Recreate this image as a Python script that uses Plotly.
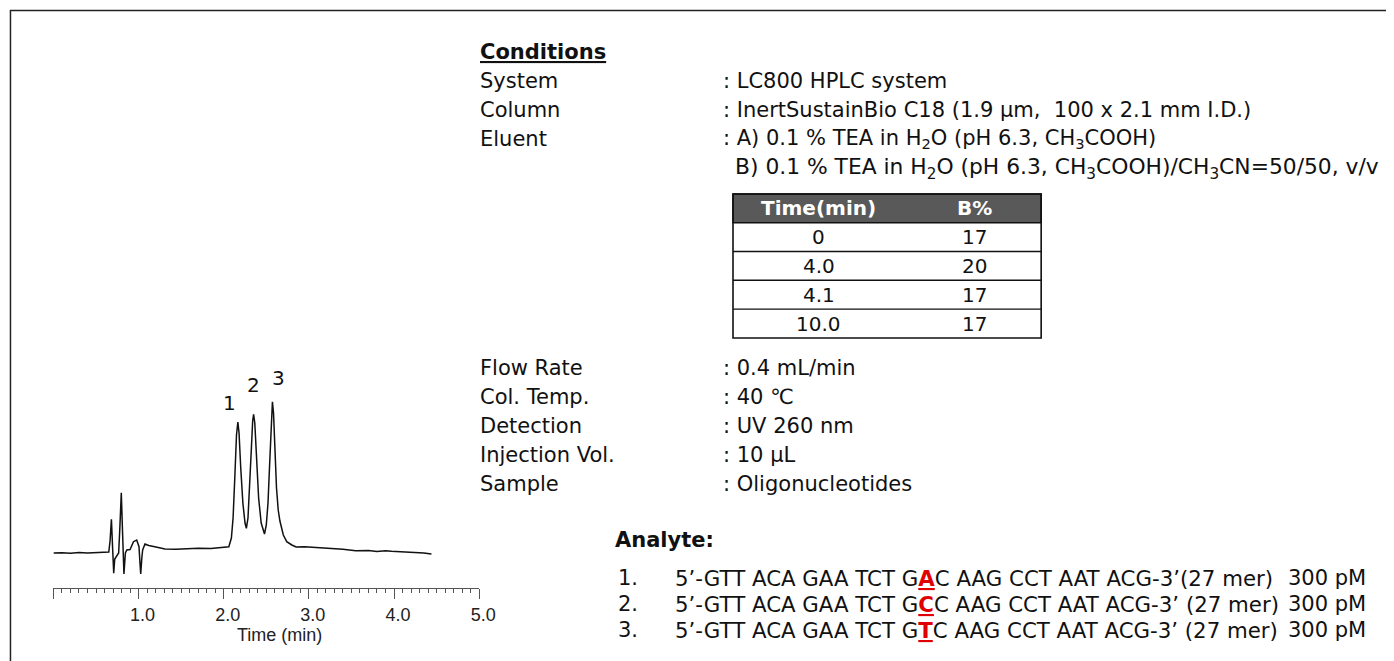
import plotly.graph_objects as go

# page is offset by the browser's 8px body margin; the figure fills the rest
OFF = 8
FW, FH = 1394 - OFF, 661 - OFF

# ---------------- data ----------------
time_min = [0.00, 0.10, 0.20, 0.30, 0.40, 0.50, 0.60, 0.65, 0.665, 0.681, 0.695, 0.708, 0.72, 0.735,
            0.766, 0.78, 0.797, 0.812, 0.828, 0.845, 0.862, 0.90, 0.94, 0.978, 1.005, 1.015, 1.025,
            1.038, 1.048, 1.075, 1.12, 1.19, 1.31, 1.44, 1.55, 1.70, 1.85, 1.98, 2.06, 2.09, 2.11,
            2.13, 2.15, 2.166, 2.18, 2.20, 2.225, 2.25, 2.266, 2.285, 2.305, 2.325, 2.34, 2.351,
            2.365, 2.385, 2.41, 2.44, 2.479, 2.50, 2.52, 2.54, 2.558, 2.572, 2.585, 2.60, 2.62,
            2.64, 2.66, 2.70, 2.74, 2.80, 2.85, 2.95, 3.10, 3.25, 3.40, 3.55, 3.70, 3.80, 3.90,
            3.97, 4.10, 4.25, 4.35, 4.44]
signal = [0.00, 0.03, -0.02, 0.04, 0.00, 0.03, 0.06, 0.10, 1.2, 3.37, 0.5, -2.03, -0.6, -0.43,
          0.0, 2.5, 6.03, 2.0, -2.1, 0.0, 0.3, 0.35, 1.13, 1.3, 0.63, -0.8, -2.1,
          -0.5, 0.3, 0.9, 0.75, 0.63, 0.40, 0.37, 0.42, 0.47, 0.45, 0.55, 0.63, 1.5, 3.5,
          7.5, 11.8, 13.1, 12.0, 8.5, 5.0, 3.0, 2.47, 3.5, 6.5, 10.5, 13.2, 13.87,
          13.0, 9.5, 5.5, 3.0, 1.9, 2.8, 5.0, 9.0, 13.5, 15.13, 14.0, 10.5, 6.5,
          4.3, 3.2, 1.8, 1.13, 0.8, 0.6, 0.62, 0.55, 0.45, 0.38, 0.22, 0.25, 0.15, 0.22,
          0.17, 0.12, 0.05, 0.0, -0.1]

peak_labels = ["1", "2", "3"]
peak_label_time = [2.07, 2.35, 2.64]
peak_label_signal = [14.97, 16.8, 17.5]

tick_vals = [0, 1, 2, 3, 4, 5]
tick_text = ["", "1.0", "2.0", "3.0", "4.0", "5.0"]
x_title = "Time (min)"

cond_heading = "Conditions"
cond_labels = ["System", "Column", "Eluent"]
cond_values = [": LC800 HPLC system",
               ": InertSustainBio C18 (1.9 µm,  100 x 2.1 mm I.D.)",
               ": A) 0.1 % TEA in H<sub>2</sub>O (pH 6.3, CH<sub>3</sub>COOH)"]
eluent_b = "B) 0.1 % TEA in H<sub>2</sub>O (pH 6.3, CH<sub>3</sub>COOH)/CH<sub>3</sub>CN=50/50, v/v"

grad_header = ["Time(min)", "B%"]
grad_time = ["0", "4.0", "4.1", "10.0"]
grad_b = ["17", "20", "17", "17"]

cond2_labels = ["Flow Rate", "Col. Temp.", "Detection", "Injection Vol.", "Sample"]
cond2_values = [": 0.4 mL/min", ": 40 ℃", ": UV 260 nm", ": 10 µL", ": Oligonucleotides"]

analyte_heading = "Analyte:"
analyte_no = ["1.", "2.", "3."]
seq_prefix = "5’-GTT ACA GAA TCT G"
seq_variant = ["A", "C", "T"]
seq_suffix = ["C AAG CCT AAT ACG-3’(27 mer)", "C AAG CCT AAT ACG-3’ (27 mer)",
              "C AAG CCT AAT ACG-3’ (27 mer)"]
analyte_conc = ["300 pM", "300 pM", "300 pM"]

# ---------------- helpers ----------------
def X(px):
    return (px - OFF) / FW

def Y(py):
    return 1 - (py - OFF) / FH

SANS = "DejaVu Sans, Verdana, Tahoma, sans-serif"
ARIAL = "Liberation Sans, Arial, sans-serif"
FS = 21

fig = go.Figure()
fig.add_trace(go.Scatter(x=time_min, y=signal, mode="lines",
                         line=dict(color="#111111", width=1.5), hoverinfo="skip",
                         showlegend=False))

annotations = []
for lab, t, s in zip(peak_labels, peak_label_time, peak_label_signal):
    annotations.append(dict(x=t, y=s, xref="x", yref="y", text=lab, showarrow=False,
                            font=dict(family=SANS, size=20, color="#111"),
                            xanchor="center", yanchor="middle"))

def txt(px, py, text, size=FS, color="#111", anchor="left", font=SANS):
    annotations.append(dict(x=X(px), y=Y(py), xref="paper", yref="paper", text=text,
                            showarrow=False, xanchor=anchor, yanchor="middle",
                            font=dict(family=font, size=size, color=color)))

# x-axis title, centred where the reference puts it
txt(283, 635, x_title, size=18, color="#222", anchor="center", font=ARIAL)

# Conditions block
txt(484, 52, "<b><u>" + cond_heading + "</u></b>")
for i, (lab, val) in enumerate(zip(cond_labels, cond_values)):
    y = 81 + i * 29
    txt(484, y, lab)
    txt(730, y, val)
txt(742, 168, eluent_b, size=21.8)

# Gradient table
tx0, tx1 = 742, 1054
ty = [194, 222.7, 251.5, 280.3, 309.1, 338]
col_c = [829, 986]
shapes = []
shapes.append(dict(type="rect", xref="paper", yref="paper", x0=X(tx0), x1=X(tx1), y0=Y(ty[0]), y1=Y(ty[1]),
                   fillcolor="#595959", line=dict(color="#111", width=1.5)))
shapes.append(dict(type="rect", xref="paper", yref="paper", x0=X(tx0), x1=X(tx1), y0=Y(ty[0]), y1=Y(ty[-1]),
                   fillcolor="rgba(0,0,0,0)", line=dict(color="#111", width=1.6)))
for yy in ty[2:-1]:
    shapes.append(dict(type="line", xref="paper", yref="paper", x0=X(tx0), x1=X(tx1), y0=Y(yy), y1=Y(yy),
                       line=dict(color="#111", width=1.4)))
for c, h in zip(col_c, grad_header):
    txt(c, (ty[0] + ty[1]) / 2, "<b>" + h + "</b>", size=20, color="white", anchor="center")
for r, (tv, bv) in enumerate(zip(grad_time, grad_b)):
    yc = (ty[r + 1] + ty[r + 2]) / 2
    txt(col_c[0], yc, tv, size=20, anchor="center")
    txt(col_c[1], yc, bv, size=20, anchor="center")

# Second condition block
for i, (lab, val) in enumerate(zip(cond2_labels, cond2_values)):
    y = 367.5 + i * 29
    txt(484, y, lab)
    txt(730, y, val)

# Analyte block
txt(621, 540, "<b>" + analyte_heading + "</b>")
for i in range(3):
    y = 578 + i * 26
    txt(624, y, analyte_no[i])
    seq = (seq_prefix + "<span style='color:#e00000'><b><u>" + seq_variant[i] + "</u></b></span>"
           + seq_suffix[i])
    txt(681, y, seq, size=21.3)
    txt(1302, y, analyte_conc[i])

# Outer frame (top and left edges; the rest lies beyond the picture)
shapes.append(dict(type="line", xref="paper", yref="paper", x0=X(10), x1=X(1420), y0=Y(10.5), y1=Y(10.5),
                   line=dict(color="#222", width=1.5)))
shapes.append(dict(type="line", xref="paper", yref="paper", x0=X(10.5), x1=X(10.5), y0=Y(10), y1=Y(700),
                   line=dict(color="#222", width=1.5)))

fig.update_layout(
    width=FW, height=FH,
    margin=dict(l=0, r=0, t=0, b=0),
    paper_bgcolor="white", plot_bgcolor="white",
    showlegend=False,
    annotations=annotations,
    shapes=shapes,
    xaxis=dict(domain=[X(54), X(485)], range=[0, 5], showline=True, linecolor="#555", linewidth=1,
               ticks="outside", ticklen=10, tickcolor="#555", tickwidth=1,
               tickmode="array", tickvals=tick_vals, ticktext=tick_text, ticklabelshift=4,
               tickfont=dict(family=ARIAL, size=18, color="#222"),
               minor=dict(ticks="outside", ticklen=4, dtick=0.1, tick0=0, tickcolor="#555", tickwidth=1,
                          showgrid=False),
               showgrid=False, zeroline=False),
    yaxis=dict(domain=[Y(588), Y(360)], range=[-3.5, 19.3], visible=False),
)

fig.write_html("out.html")
